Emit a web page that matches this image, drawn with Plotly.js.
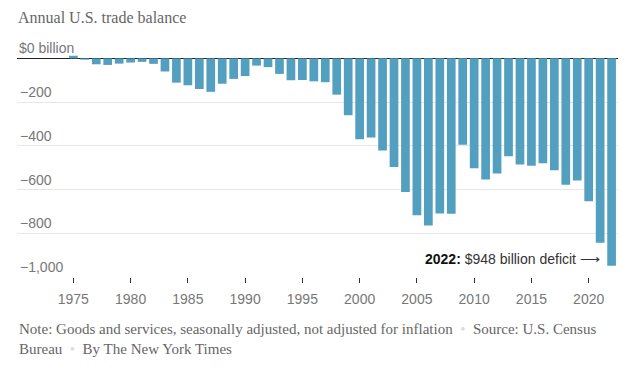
<!DOCTYPE html>
<html>
<head>
<meta charset="utf-8">
<script src="https://cdn.plot.ly/plotly-3.0.1.min.js"></script>
<style>html,body{margin:0;padding:0;background:#fff;}#chart{width:635px;height:373px;}</style>
</head>
<body>
<div id="chart"></div>
<script>
const years = [1975,1976,1977,1978,1979,1980,1981,1982,1983,1984,1985,1986,1987,1988,1989,1990,1991,1992,1993,1994,1995,1996,1997,1998,1999,2000,2001,2002,2003,2004,2005,2006,2007,2008,2009,2010,2011,2012,2013,2014,2015,2016,2017,2018,2019,2020,2021,2022];
const balance = [12,-6,-27,-30,-24,-19,-16,-25,-60,-111,-123,-140,-153,-116,-94,-81,-33,-40,-71,-100,-99,-105,-109,-166,-260,-370,-362,-421,-497,-611,-717,-764,-709,-711,-395,-503,-554,-527,-448,-485,-491,-480,-512,-578,-559,-653,-843,-948];
const yTickVals = [-200,-400,-600,-800,-1000];
const yTickText = ["\u2212200","\u2212400","\u2212600","\u2212800","\u22121,000"];
const zeroLabel = "$0 billion";
const xTickVals = [1975,1980,1985,1990,1995,2000,2005,2010,2015,2020];
const xTickText = ["1975","1980","1985","1990","1995","2000","2005","2010","2015","2020"];

const trace = {
  type: 'bar', x: years, y: balance,
  marker: {color: '#539fc0'},
  width: 0.76,
  hoverinfo: 'x+y'
};
const layout = {
  width: 635, height: 373,
  margin: {l: 17, r: 17, t: 54, b: 96},
  paper_bgcolor: '#fff', plot_bgcolor: '#fff',
  showlegend: false,
  title: {
    text: 'Annual U.S. trade balance',
    font: {family: 'Liberation Serif, serif', size: 16, color: '#666'},
    xref: 'container', x: 18/635, xanchor: 'left',
    yref: 'container', y: 1 - 17/373, yanchor: 'middle'
  },
  xaxis: {
    range: [1970.08, 2022.56],
    tickvals: xTickVals, ticktext: xTickText,
    ticks: 'outside', ticklen: 5, tickcolor: '#333', tickwidth: 1,
    ticklabelstandoff: 4,
    showgrid: false, zeroline: false, showline: false,
    tickfont: {family: 'Liberation Sans, Arial, sans-serif', size: 14, color: '#777'},
    fixedrange: true
  },
  yaxis: {
    range: [-1000, 20],
    tickvals: yTickVals, ticktext: yTickText,
    ticklabelposition: 'inside top',
    ticks: '',
    showgrid: true, gridcolor: '#e6e6e6', gridwidth: 1,
    zeroline: true, zerolinecolor: '#222', zerolinewidth: 1,
    showline: false,
    tickfont: {family: 'Liberation Sans, Arial, sans-serif', size: 14, color: '#777'},
    fixedrange: true
  },
  annotations: [
    {
      x: 0, y: 0, xref: 'paper', yref: 'y', xanchor: 'left', yanchor: 'bottom',
      xshift: 0, yshift: 0, showarrow: false, text: zeroLabel,
      font: {family: 'Liberation Sans, Arial, sans-serif', size: 14, color: '#777'}
    },
    {
      x: 2021.2, y: -916, xref: 'x', yref: 'y', xanchor: 'right', yanchor: 'middle',
      text: '<b style="color:#111">2022:</b> $948 billion deficit \u27F6',
      showarrow: false,
      font: {family: 'Liberation Sans, Arial, sans-serif', size: 14, color: '#333'}
    },
    {
      xref: 'paper', yref: 'paper', x: 0, y: -0.19, xanchor: 'left', yanchor: 'top',
      align: 'left', showarrow: false, xshift: 0, yshift: 0,
      text: 'Note: Goods and services, seasonally adjusted, not adjusted for inflation <span style="color:#ddd">\u00A0\u2022\u00A0</span> Source: U.S. Census<br>Bureau <span style="color:#ddd">\u00A0\u2022\u00A0</span> By The New York Times',
      font: {family: 'Liberation Serif, serif', size: 15, color: '#666'}
    }
  ]
};
Plotly.newPlot('chart', [trace], layout, {displayModeBar: false, staticPlot: true});
</script>
</body>
</html>
